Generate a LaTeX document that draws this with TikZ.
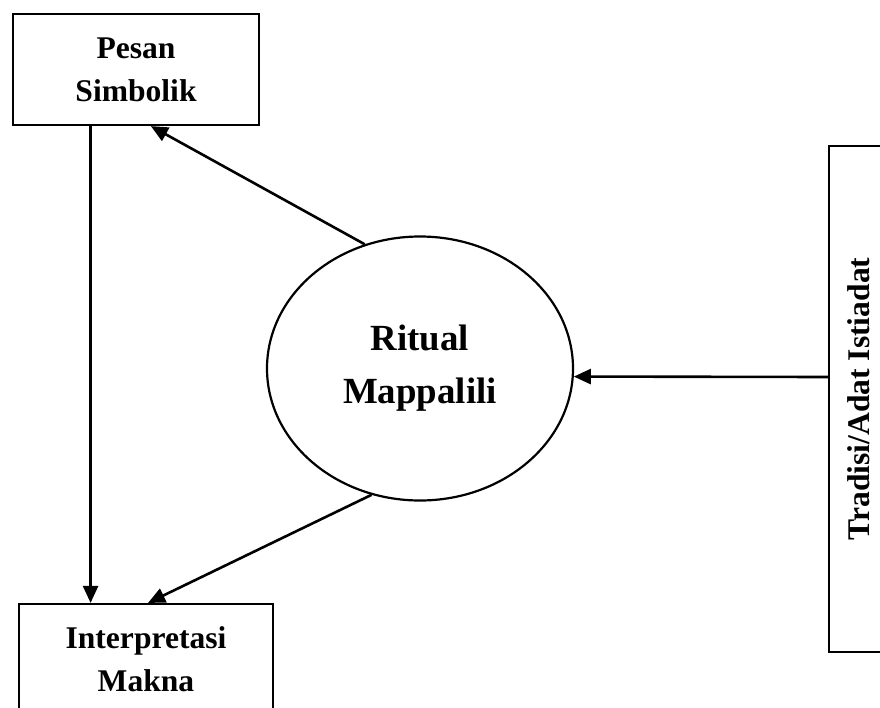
\documentclass[tikz,border=0pt]{standalone}
\usepackage{fontspec}
\setmainfont{Liberation Serif}
\usetikzlibrary{shapes.geometric,arrows.meta,calc}
\begin{document}
\begin{tikzpicture}[x=1bp,y=-1bp,
 box/.style={draw,line width=2.2bp,align=center,inner sep=0pt,font=\fontsize{31.7}{43.2}\selectfont\bfseries},
 oval/.style={draw,ellipse,line width=2.2bp,align=center,inner sep=0pt,font=\fontsize{37}{53.2}\selectfont\bfseries},
 arr/.style={line width=2.6bp,-{Triangle[length=17bp,width=15bp]}}]
\useasboundingbox (0,0) rectangle (880,708);
\clip (0,0) rectangle (880,708);
\node[box,minimum width=246bp,minimum height=111bp] (pesan) at (136,69.5) {Pesan\\Simbolik};
\node[box,minimum width=254bp,minimum height=111bp] (interp) at (146,659.5) {Interpretasi\\Makna};
\node[oval,minimum width=306bp,minimum height=264bp] (ell) at (420,368.5) {Ritual\\Mappalili};
\node[box,rotate=90,minimum width=506bp,minimum height=60bp] (trad) at (859,399) {Tradisi/Adat Istiadat};
\coordinate (ay) at (0,377);
\draw[arr] ($(pesan.south west)!0.317!(pesan.south east)$) coordinate (vtop) -- (vtop |- interp.north);
\draw[arr] (ell.114) -- ($(pesan.south west)!0.56!(pesan.south east)$);
\draw[arr] (ell.249) -- ($(interp.north west)!0.508!(interp.north east)$);
\draw[arr] (trad.north |- ay) -- (ell.-3);
\end{tikzpicture}
\end{document}
